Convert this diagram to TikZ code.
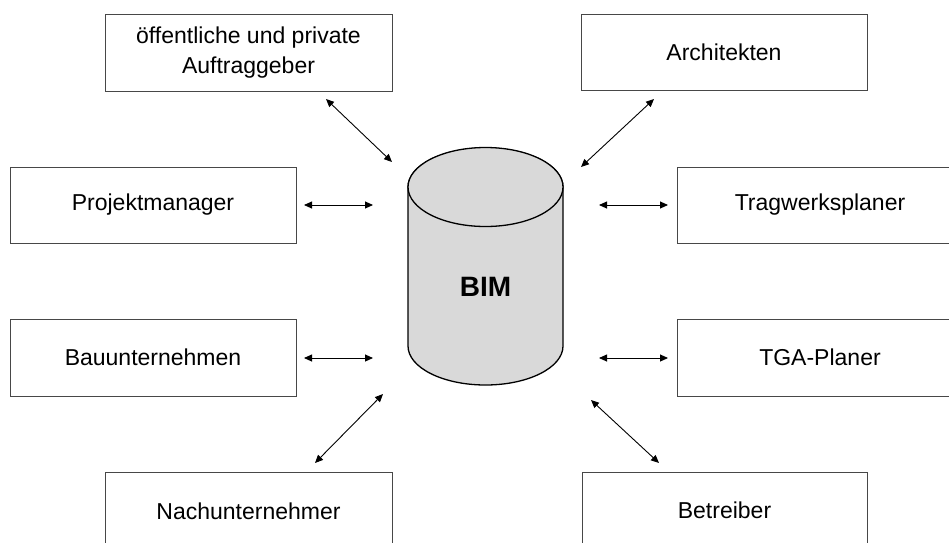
\documentclass[tikz,border=0pt]{standalone}
\usepackage{fontspec}
\setmainfont{Liberation Sans}
\usetikzlibrary{arrows.meta}
\begin{document}
\begin{tikzpicture}[x=1pt,y=-1pt,
  label font/.style={font=\fontsize{23}{30}\selectfont},
  party/.style={draw=black!72,line width=0.9pt,fill=white,inner sep=0pt,
    label font,align=center},
  link/.style={line width=0.9pt,{Triangle[length=8pt,width=7pt]}-{Triangle[length=8pt,width=7pt]}},
  drum/.style={draw=black,line width=1.3pt,fill=black!15}]
  \useasboundingbox (0,0) rectangle (949,542);
  \clip (0,0) rectangle (949,542);

  % stakeholder boxes
  \node[party,minimum width=287pt,minimum height=77pt] (bauherr) at (248.5,52.5)
    {öffentliche und private\\Auftraggeber};
  \node[party,minimum width=286pt,minimum height=76pt] (archi) at (724,52.5) {Architekten};
  \node[party,minimum width=286pt,minimum height=76pt] (pm) at (153,205) {Projektmanager};
  \node[party,minimum width=286pt,minimum height=76pt,text width=180pt] (trag) at (820,205) {Tragwerksplaner};
  \node[party,minimum width=286pt,minimum height=77pt] (bau) at (153,357.5) {Bauunternehmen};
  \node[party,minimum width=286pt,minimum height=77pt,text width=180pt] (tga) at (820,357.5) {TGA-Planer};
  \node[party,minimum width=287pt,minimum height=130pt] (nach) at (248.5,537) {};
  \node[label font] (nachtxt) at (248.5,511) {Nachunternehmer};
  \node[party,minimum width=285pt,minimum height=130pt] (betr) at (724.5,537) {};
  \node[label font] (betrtxt) at (724.5,510) {Betreiber};

  % central model store
  \path[drum] (408,187) -- (408,346)
    arc[start angle=180,end angle=0,x radius=77.5,y radius=39]
    -- (563,187)
    arc[start angle=0,end angle=-180,x radius=77.5,y radius=39] -- cycle;
  \draw[drum] (485.5,187) ellipse[x radius=77.5,y radius=39.5];
  \node[font=\fontsize{28}{32}\selectfont\bfseries] (bim) at (485.5,287) {BIM};

  % arrow end points
  \coordinate (a1) at (326,99);  \coordinate (b1) at (392,162);
  \coordinate (a2) at (654,99);  \coordinate (b2) at (581,167);
  \coordinate (a3) at (304,205); \coordinate (b3) at (373,205);
  \coordinate (a4) at (599,205); \coordinate (b4) at (668,205);
  \coordinate (a5) at (304,358); \coordinate (b5) at (373,358);
  \coordinate (a6) at (599,358); \coordinate (b6) at (668,358);
  \coordinate (a7) at (383,394); \coordinate (b7) at (315,463);
  \coordinate (a8) at (591,400); \coordinate (b8) at (659,463);

  \foreach \i in {1,...,8} \draw[link] (a\i) -- (b\i);
\end{tikzpicture}
\end{document}
